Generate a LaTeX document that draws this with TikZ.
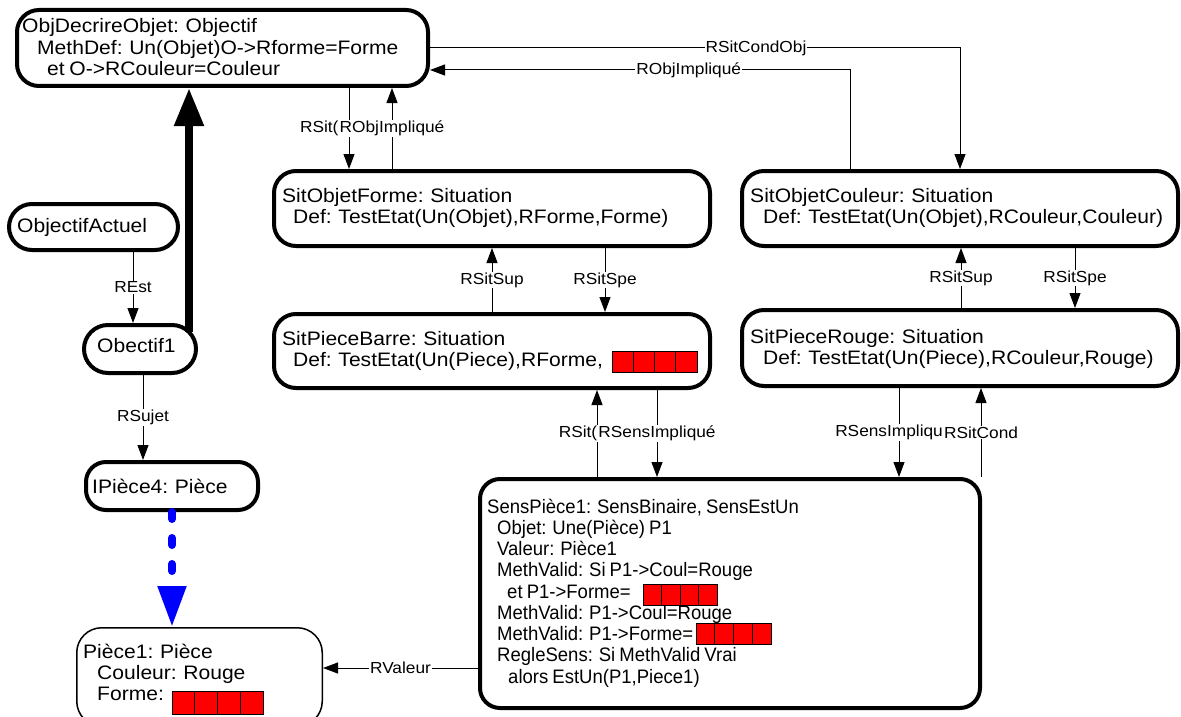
\documentclass[tikz,border=0pt]{standalone}
\usepackage{fontspec}
\setmainfont{Liberation Sans}[FakeStretch=1.08,WordSpace=0.8]
\newfontfamily\plainsans{Liberation Sans}[FakeStretch=0.95,WordSpace=0.8]
\usetikzlibrary{arrows.meta,calc}
\newcommand\mainsz{\fontsize{19.5pt}{21.25pt}\selectfont}
\newcommand\smallsz{\plainsans\fontsize{19.5pt}{21.25pt}\selectfont}
\newcommand\lblsz{\fontsize{16pt}{18pt}\selectfont}
\newcommand\mlines[1]{\vtop{\baselineskip=21.25pt\relax #1}}
\newcommand\redbar[4]{\foreach \ii in {0,1,2,3}{\filldraw[redsq] ({#1+\ii*#3},#2) rectangle ++(#3,#4);}}
\begin{document}
\begin{tikzpicture}[x=1pt,y=-1pt,
  box/.style={draw, line width=4pt, rounded corners=22pt, inner sep=0pt},
  thinbox/.style={draw, line width=1.5pt, rounded corners=25pt, inner sep=0pt},
  txt/.style={anchor=base west, inner sep=0pt, font=\mainsz},
  lbl/.style={fill=white, inner sep=1pt, font=\lblsz},
  rel/.style={line width=1pt, -{Triangle[length=15pt,width=11pt]}},
  redsq/.style={fill=red, draw=black, line width=1pt},
  bigarrow/.style={line width=8pt, -{Triangle[length=38pt,width=28pt]}},
  bluearrow/.style={draw=blue, line width=8pt, line cap=round, dash pattern=on 7pt off 19pt, -{Triangle[length=41pt,width=27pt,fill=blue]}}]
\fill[white] (0,0) rectangle (1181,717);
\useasboundingbox (0,0) rectangle (1181,717);

% boxes
\node[box, minimum width=411pt, minimum height=76pt] (obj) at (222.5,48) {};
\node[box, rounded corners=23pt, minimum width=169pt, minimum height=46pt] (actuel) at (93.5,227) {};
\node[box, rounded corners=24pt, minimum width=112pt, minimum height=48pt] (obe1) at (140,349) {};
\node[box, rounded corners=20pt, minimum width=172pt, minimum height=48pt] (ip4) at (172,486) {};
\node[box, minimum width=436pt, minimum height=75pt] (sof) at (492,208.5) {};
\node[box, minimum width=436pt, minimum height=74pt] (spb) at (492,351) {};
\node[box, minimum width=436pt, minimum height=75pt] (soc) at (960,208.5) {};
\node[box, minimum width=436pt, minimum height=76pt] (spr) at (960,348) {};
\node[box, rounded corners=20pt, minimum width=500pt, minimum height=229pt] (sp1) at (730,593.5) {};
\node[thinbox, minimum width=245.5pt, minimum height=98.5pt] (p1) at (199.5,677) {};

% texts
\node[txt] (tobj) at (22,33) {\mlines{\hbox{ObjDecrireObjet: Objectif}\hbox{\kern15pt MethDef: Un(Objet)O->Rforme=Forme}\hbox{\kern25pt et O->RCouleur=Couleur}}};
\node[txt] (tactuel) at (17,232) {ObjectifActuel};
\node[txt] (tobe1) at (97,352) {Obectif1};
\node[txt] (tip4) at (92,493) {IPièce4: Pièce};
\node[txt] (tsof) at (282,202) {\mlines{\hbox{SitObjetForme: Situation}\hbox{\kern11pt Def: TestEtat(Un(Objet),RForme,Forme)}}};
\node[txt] (tspb) at (282,345) {\mlines{\hbox{SitPieceBarre: Situation}\hbox{\kern11pt Def: TestEtat(Un(Piece),RForme,}}};
\node[txt] (tsoc) at (750,202) {\mlines{\hbox{SitObjetCouleur: Situation}\hbox{\kern13pt Def: TestEtat(Un(Objet),RCouleur,Couleur)}}};
\node[txt] (tspr) at (750,343) {\mlines{\hbox{SitPieceRouge: Situation}\hbox{\kern13pt Def: TestEtat(Un(Piece),RCouleur,Rouge)}}};
\node[txt, font=\smallsz] (tsp1) at (487,513) {\mlines{%
  \hbox{SensPièce1: SensBinaire, SensEstUn}%
  \hbox{\kern10pt Objet: Une(Pièce) P1}%
  \hbox{\kern10pt Valeur: Pièce1}%
  \hbox{\kern10pt MethValid: Si P1->Coul=Rouge}%
  \hbox{\kern20pt et P1->Forme=}%
  \hbox{\kern10pt MethValid: P1->Coul=Rouge}%
  \hbox{\kern10pt MethValid: P1->Forme=}%
  \hbox{\kern10pt RegleSens: Si MethValid Vrai}%
  \hbox{\kern21pt alors EstUn(P1,Piece1)}}};
\node[txt] (tp1) at (83,658) {\mlines{\hbox{Pièce1: Pièce}\hbox{\kern14pt Couleur: Rouge}\hbox{\kern14pt Forme:}}};

% red squares
\redbar{612}{351}{21.25}{21}
\redbar{643}{584}{18.5}{21}
\redbar{696}{623}{18.75}{21}
\redbar{172}{691}{22.75}{23}

% helper coordinates
\coordinate (c349) at (349,0);
\coordinate (c392) at (392,0);
\coordinate (c492) at (492,0);
\coordinate (c605) at (605,0);
\coordinate (c961) at (961,0);
\coordinate (c1075) at (1075,0);
\coordinate (c597) at (597,0);
\coordinate (c657) at (657,0);
\coordinate (c899) at (899,0);
\coordinate (c981) at (981,0);
\coordinate (c133) at (133,0);
\coordinate (c143) at (143,0);
\coordinate (xR) at (850,70);
\coordinate (y668) at (0,668);

% connectors
\draw[rel] (obj.south -| c349) -- (sof.north -| c349);
\draw[rel] (sof.north -| c392) -- node[lbl] (l2a) {RObjImpliqué} (obj.south -| c392);
\node[lbl, anchor=east, xshift=1.5pt] (l1a) at (l2a.west) {RSit(};
\draw[rel] (obj.east) -- node[lbl, pos=0.615]{RSitCondObj} (obj.east -| soc.north) -- (soc.north);
\draw[rel] (soc.north -| xR) -- (xR) -- node[lbl, pos=0.384]{RObjImpliqué} (obj.east |- xR);
\draw[rel] (spb.north -| c492) -- node[lbl]{RSitSup} (sof.south -| c492);
\draw[rel] (sof.south -| c605) -- node[lbl]{RSitSpe} (spb.north -| c605);
\draw[rel] (spr.north -| c961) -- node[lbl]{RSitSup} (soc.south -| c961);
\draw[rel] (soc.south -| c1075) -- node[lbl]{RSitSpe} (spr.north -| c1075);
\draw[rel] (sp1.north -| c597) -- (spb.south -| c597);
\draw[rel] (spb.south -| c657) -- node[lbl] (l2b) {RSensImpliqué} (sp1.north -| c657);
\node[lbl, anchor=east, xshift=1.5pt] (l1b) at (l2b.west) {RSit(};
\draw[rel] (spr.south -| c899) -- (sp1.north -| c899);
\draw[rel] (sp1.north -| c981) -- node[lbl] (l2c) {RSitCond} (spr.south -| c981);
\node[lbl, anchor=east, xshift=1.5pt] (l1c) at (l2c.west) {RSensImpliqu};
\draw[rel] (sp1.west |- y668) -- node[lbl]{RValeur} (p1.east |- y668);
\draw[rel] (actuel.south -| c133) -- node[lbl]{REst} (obe1.north -| c133);
\draw[rel] (obe1.south -| c143) -- node[lbl]{RSujet} (ip4.north -| c143);

\coordinate (tk) at ($(obe1.north east)+(-9,9)$);
\draw[bigarrow] (tk) -- (obj.south -| tk);
\draw[bluearrow] (ip4.south) -- (ip4.south |- p1.north);
\end{tikzpicture}
\end{document}
